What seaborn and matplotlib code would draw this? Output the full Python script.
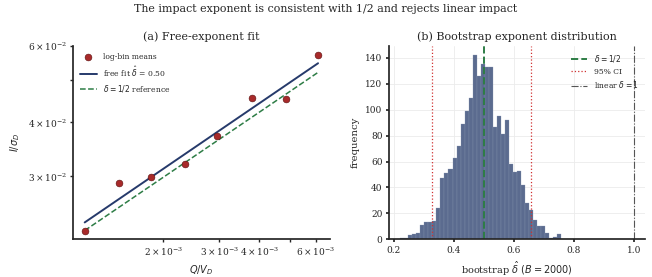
import matplotlib
matplotlib.use('Agg')
import matplotlib.pyplot as plt
from matplotlib.ticker import MultipleLocator
import numpy as np
import pandas as pd
import seaborn as sns

# log-bin means (panel a)
q_over_v = [1.136e-3, 1.45e-3, 1.83e-3, 2.34e-3, 2.95e-3, 3.79e-3, 4.85e-3, 6.11e-3]
impact = [2.25e-2, 2.90e-2, 2.99e-2, 3.21e-2, 3.72e-2, 4.55e-2, 4.53e-2, 5.73e-2]

# bootstrap histogram (panel b), 40 bins
boot_lo, boot_hi = 0.222, 0.756
boot_counts = [1, 1, 3, 4, 5, 11, 13, 13, 14, 24,
               47, 51, 54, 63, 72, 89, 99, 109, 142, 126,
               135, 133, 133, 87, 95, 81, 92, 58, 52, 53,
               42, 28, 23, 15, 10, 10, 5, 1, 2, 4]
ci_lo, ci_hi = 0.328, 0.658

sns.set_theme(style='ticks')
plt.rcParams['font.family'] = ['DejaVu Serif']

navy = '#263a6b'
green = '#2e7d46'

fig, axes = plt.subplots(1, 2, figsize=(6.52, 2.77), dpi=100)
fig.subplots_adjust(left=0.112, right=0.99, bottom=0.136, top=0.834, wspace=0.23)

# (a) free-exponent fit
ax = axes[0]
x = np.array(q_over_v)
y = np.array(impact)
slope, icpt = np.polyfit(np.log10(x), np.log10(y), 1)
sns.scatterplot(x=x, y=y, ax=ax, color='#a82a2a', edgecolor='#5a1010', linewidth=0.4,
                s=24, label='log-bin means', zorder=3)
ax.plot(x[[0, -1]], 10 ** (icpt + slope * np.log10(x[[0, -1]])), color=navy, lw=1.4,
        label=r'free fit $\hat{\delta}$ = %.2f' % slope)
ax.plot(x[[0, -1]], y[0] * (x[[0, -1]] / x[0]) ** 0.5, color=green, lw=1.1, ls='--',
        label=r'$\delta = 1/2$ reference')
ax.set_xscale('log')
ax.set_yscale('log')
ax.set_xlabel(r'$Q/V_D$', fontsize=7)
ax.set_ylabel(r'$I/\sigma_D$', fontsize=7)
ax.set_title('(a) Free-exponent fit', fontsize=8, pad=4)
ax.tick_params(labelsize=6.5, which='both', length=2.5, pad=2)
ax.legend(loc='upper left', fontsize=5.5, frameon=False, handlelength=2.2)

# (b) bootstrap distribution
ax = axes[1]
width = (boot_hi - boot_lo) / len(boot_counts)
boot = pd.DataFrame({'delta': boot_lo + width * (np.arange(len(boot_counts)) + 0.5),
                     'count': boot_counts})
sns.histplot(data=boot, x='delta', weights='count', bins=len(boot_counts),
             binrange=(boot_lo, boot_hi), ax=ax, color='#5b6b8f',
             alpha=1, edgecolor='#8a96b2', linewidth=0.2)
ax.axvline(0.5, color=green, ls='--', lw=1.4, label=r'$\delta = 1/2$')
ax.axvline(ci_lo, color='#d03030', ls=':', lw=0.9, label='95% CI')
ax.axvline(ci_hi, color='#d03030', ls=':', lw=0.9)
ax.axvline(1.0, color='#555555', ls='-.', lw=0.8, label=r'linear $\delta = 1$')
ax.xaxis.set_major_locator(MultipleLocator(0.2))
ax.grid(True, color='#ebebeb', lw=0.6)
ax.set_axisbelow(True)
ax.set_xlabel(r'bootstrap $\hat{\delta}$ $(B = 2000)$', fontsize=7)
ax.set_ylabel('frequency', fontsize=7.3)
ax.set_title('(b) Bootstrap exponent distribution', fontsize=8, pad=4)
ax.tick_params(labelsize=6.5, length=2.5, pad=2)
ax.legend(loc='upper right', fontsize=5.5, frameon=False, handlelength=2.2)

sns.despine(fig)
fig.suptitle('The impact exponent is consistent with 1/2 and rejects linear impact',
             fontsize=7.9, y=0.985)
fig.savefig('out.png', dpi=100)
